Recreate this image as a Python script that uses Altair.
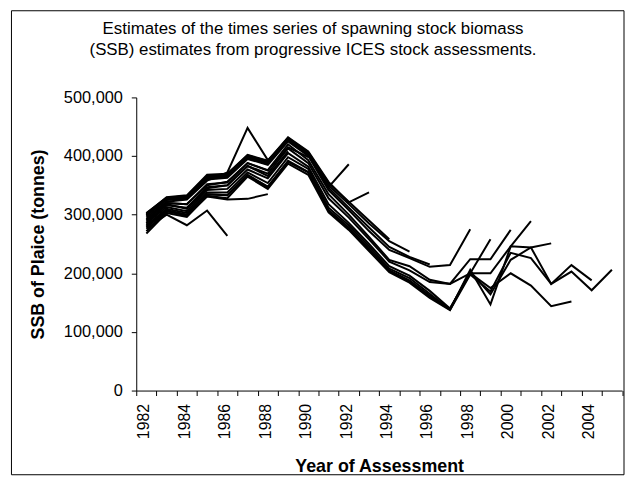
import altair as alt
import pandas as pd

# SSB estimates (thousand tonnes) by year, one list per ICES assessment; each starts in 1982
first_year = 1982
a1986 = [276, 300, 282, 307, 264]
a1988 = [272, 306, 298, 331, 326, 327, 335]
a1989 = [285, 318, 310, 345, 350, 383, 366, 408]
a1990 = [290, 320, 318, 350, 356, 388, 375, 415, 398]
a1991 = [295, 322, 326, 358, 372, 448, 393, 428, 402, 350]
a1992 = [300, 328, 331, 365, 368, 400, 390, 430, 405, 347, 386]
a1993 = [302, 330, 333, 368, 370, 402, 392, 432, 408, 356, 321, 338]
a1994 = [303, 329, 332, 366, 369, 401, 391, 431, 406, 354, 322, 290, 258]
a1995 = [301, 327, 330, 364, 367, 399, 389, 429, 404, 350, 318, 285, 255, 237]
a1996 = [299, 326, 329, 362, 365, 397, 387, 427, 402, 346, 312, 278, 245, 228, 215]
a1998 = [298, 325, 327, 360, 363, 395, 385, 425, 400, 342, 308, 272, 240, 226, 211, 214, 275]
a1999 = [292, 320, 318, 352, 355, 388, 376, 420, 393, 335, 300, 262, 223, 212, 189, 182, 200, 258]
a2000 = [288, 316, 312, 347, 350, 383, 370, 413, 388, 328, 295, 258, 220, 205, 185, 182, 224, 224, 274]
a2001 = [285, 313, 306, 342, 344, 377, 362, 405, 382, 318, 286, 250, 212, 196, 170, 140, 200, 200, 246, 289]
a2002 = [282, 310, 303, 338, 338, 372, 354, 398, 378, 312, 282, 246, 208, 192, 165, 138, 203, 164, 223, 244, 251]
a2003 = [278, 306, 300, 335, 333, 368, 348, 392, 373, 308, 278, 242, 205, 188, 162, 140, 200, 175, 200, 179, 144, 152]
a2004 = [280, 308, 300, 335, 333, 367, 347, 390, 372, 306, 276, 240, 204, 186, 160, 138, 206, 147, 246, 244, 182, 214, 188]
a2005 = [268, 303, 296, 332, 328, 365, 344, 387, 368, 304, 274, 238, 202, 184, 158, 137, 198, 169, 235, 226, 182, 203, 171, 206]

assessments = {
    "1986": a1986, "1988": a1988, "1989": a1989, "1990": a1990, "1991": a1991,
    "1992": a1992, "1993": a1993, "1994": a1994, "1995": a1995, "1996": a1996,
    "1998": a1998, "1999": a1999, "2000": a2000, "2001": a2001, "2002": a2002,
    "2003": a2003, "2004": a2004, "2005": a2005,
}

y_ticks = [0, 100000, 200000, 300000, 400000, 500000]
x_tick_bounds = [1981.5 + i for i in range(25)]

title_lines = [
    "Estimates of the times series of spawning stock biomass",
    "(SSB) estimates from progressive ICES stock assessments.",
]

rows = []
for name, vals in assessments.items():
    for i, v in enumerate(vals):
        rows.append({"assessment": name, "year": first_year + i, "ssb": v * 1000})
df = pd.DataFrame(rows)

FONT = "Liberation Sans"

lines = alt.Chart(df).mark_line(color="black", strokeWidth=2).encode(
    x=alt.X(
        "year:Q",
        scale=alt.Scale(domain=[1981.5, 2005.5], nice=False, zero=False),
        axis=alt.Axis(
            values=x_tick_bounds,
            labelExpr="((datum.value + 0.5) % 2 == 0 && datum.value < 2004) ? toString(datum.value + 0.5) : ''",
            labelAngle=-90,
            labelAlign="right",
            labelBaseline="middle",
            labelOffset=7.5,
            labelPadding=8,
            labelOverlap=False,
            labelFlush=False,
            labelFontSize=16,
            tickSize=5,
            grid=False,
            title="Year of Assessment",
            titleFontSize=18,
            titleFontWeight="bold",
            titleBaseline="middle",
            titleY=77,
        ),
    ),
    y=alt.Y(
        "ssb:Q",
        scale=alt.Scale(domain=[0, 500000], nice=False),
        axis=alt.Axis(
            values=y_ticks,
            format=",d",
            labelFontSize=16.5,
            labelPadding=9,
            tickSize=5,
            grid=False,
            title="SSB of Plaice (tonnes)",
            titleFontSize=18,
            titleFontWeight="bold",
            titleBaseline="middle",
            titleX=-98.5,
        ),
    ),
    detail="assessment:N",
    order="year:Q",
)

border = alt.Chart(alt.Data(values=[{"a": 1}])).mark_rect(
    filled=False, stroke="black", strokeWidth=1
).encode(
    x=alt.value(-126), x2=alt.value(492.5), y=alt.value(-87.5), y2=alt.value(381)
)

chart = alt.layer(lines, border).properties(
    width=490.5,
    height=296,
    autosize=alt.AutoSizeParams(type="none"),
    padding={"left": 129.5, "top": 88, "right": 3, "bottom": 86},
    title=alt.TitleParams(
        text=title_lines,
        fontSize=17,
        fontWeight="normal",
        font=FONT,
        color="black",
        anchor="middle",
        dx=-66.75,
        dy=49,
        offset=0,
        lineHeight=21,
    ),
).configure_view(stroke=None).configure_axis(
    labelFont=FONT, titleFont=FONT, labelColor="black", titleColor="black",
    domainColor="black", tickColor="black", domainWidth=1, tickWidth=1,
)

chart.save("out.html", embed_options={"renderer": "svg", "actions": False})
